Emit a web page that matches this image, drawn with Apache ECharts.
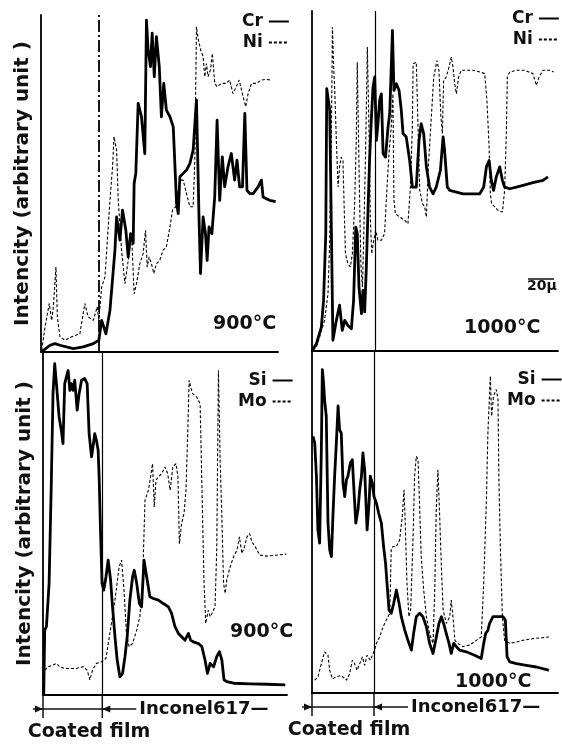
<!DOCTYPE html>
<html>
<head>
<meta charset="utf-8">
<script src="https://cdn.jsdelivr.net/npm/echarts@6/dist/echarts.min.js"></script>
<style>
  html, body { margin: 0; padding: 0; background: #fff; }
  #main { width: 562px; height: 745px; }
</style>
</head>
<body>
<div id="main"></div>
<script>
  // line scans across the coated film / Inconel617 section
  // x: position along the scan (0-100), y: intensity (arbitrary unit)
  var cr900 = [[0,0],[1.0,0.5],[3.8,2.0],[5.9,2.5],[8.0,2.0],[13.6,1.0],[17.8,1.5],[22.1,2.5],[24.4,3.5],[25.6,9.4],[27.4,5.4],[29.1,12.4],[31.2,30.2],[31.9,40.1],[33.3,33.2],[34.4,42.1],[35.8,36.1],[36.8,28.2],[37.8,35.1],[38.9,32.2],[39.3,50.0],[40.0,53.0],[41.0,73.8],[42.4,69.8],[43.8,58.9],[44.5,98.5],[45.2,89.6],[46.2,84.7],[46.9,94.6],[47.8,81.7],[48.7,93.6],[49.9,84.7],[50.8,69.8],[51.8,79.7],[52.9,71.8],[54.4,69.8],[55.8,66.8],[57.2,44.1],[57.9,41.1],[58.6,52.0],[60.0,53.0],[61.4,54.0],[62.8,55.9],[64.2,59.9],[65.6,74.8],[66.7,39.1],[67.3,23.3],[68.4,40.1],[69.4,35.1],[70.1,27.2],[70.9,37.1],[72.1,35.1],[73.3,46.0],[74.3,68.8],[75.4,45.0],[76.5,57.9],[77.5,49.0],[78.9,55.0],[80.3,58.9],[81.7,51.0],[82.7,56.9],[83.8,49.0],[85.0,49.0],[86.0,70.8],[86.9,48.0],[88.1,47.0],[89.5,47.0],[91.6,49.0],[93.0,51.0],[93.7,46.0],[95.1,45.5],[96.5,45.0],[99.0,44.6]];
  var ni900 = [[0.3,0.5],[1.7,7.4],[2.7,11.4],[3.5,14.4],[4.5,9.4],[5.2,13.4],[6.3,25.2],[6.9,10.4],[8.0,4.5],[10.1,3.5],[12.9,4.5],[16.4,5.4],[18.5,14.4],[19.9,10.4],[22.1,9.4],[23.7,13.4],[24.4,9.4],[25.6,19.3],[27.0,22.3],[29.1,45.0],[30.2,55.0],[30.8,63.9],[31.9,59.9],[32.6,45.0],[34.0,30.2],[35.4,20.3],[36.8,27.2],[38.2,35.1],[39.3,17.3],[40.3,20.3],[41.7,26.2],[43.1,29.2],[44.1,36.1],[44.8,25.2],[45.6,28.2],[46.6,26.2],[47.6,23.3],[48.7,26.2],[50.1,27.2],[51.5,30.2],[52.9,31.2],[54.4,37.1],[55.5,42.1],[56.9,43.1],[58.6,51.0],[60.0,51.0],[61.4,47.0],[62.8,43.1],[64.2,43.1],[64.9,56.9],[65.6,96.5],[66.4,92.6],[67.4,89.6],[68.4,87.6],[69.1,81.7],[69.8,85.6],[70.5,81.7],[71.5,83.7],[72.3,88.6],[73.3,79.7],[74.3,78.7],[76.1,79.7],[78.2,79.7],[79.6,80.7],[81.0,76.7],[82.4,78.7],[83.6,80.7],[85.3,75.7],[86.4,72.8],[87.4,76.7],[88.8,79.7],[90.9,79.7],[93.0,80.7],[95.1,80.9],[97.2,80.7]];
  var cr1000 = [[0,0],[1.8,2.2],[3.8,7.1],[4.7,15.0],[5.6,34.9],[6.0,77.9],[7.2,71.5],[7.9,34.9],[8.5,3.2],[9.9,9.1],[11.2,13.6],[12.3,6.1],[13.3,9.1],[14.6,7.6],[16.0,6.6],[16.9,15.0],[17.8,36.8],[18.4,34.9],[19.1,19.0],[20.1,11.1],[20.7,18.0],[21.4,11.6],[22.1,25.0],[22.8,42.8],[23.4,56.6],[24.1,68.5],[24.8,78.4],[25.5,81.4],[26.2,62.6],[26.8,67.5],[27.5,74.5],[28.2,76.4],[28.9,58.6],[29.9,57.6],[30.9,66.5],[31.6,70.5],[32.7,95.2],[33.3,77.4],[34.3,79.4],[35.4,77.4],[36.3,71.5],[37.0,64.6],[38.3,63.6],[39.7,56.6],[40.8,48.7],[42.4,48.7],[43.5,62.6],[44.4,67.5],[45.4,64.6],[46.5,54.7],[47.8,48.7],[49.2,46.7],[50.5,48.7],[52.2,53.7],[53.3,63.6],[53.9,59.6],[55.0,48.7],[56.0,47.7],[58.7,47.2],[61.4,46.7],[64.8,46.7],[68.2,46.7],[69.8,48.7],[70.9,54.7],[72.0,56.6],[72.9,50.7],[73.8,47.7],[74.9,51.7],[76.3,54.7],[77.4,50.7],[78.3,48.7],[80.4,48.2],[83.1,48.7],[85.8,49.2],[89.8,50.0],[93.9,50.7],[95.9,51.7]];
  var ni1000 = [[0.4,0.2],[1.8,1.2],[3.1,4.2],[5.1,9.1],[6.5,17.0],[7.2,32.9],[7.9,64.6],[8.3,96.2],[8.8,84.4],[9.2,78.4],[9.9,62.6],[10.6,48.7],[11.2,54.7],[11.9,57.6],[12.6,56.6],[13.0,44.8],[13.6,28.9],[14.6,25.9],[15.6,25.0],[16.4,28.9],[17.3,42.8],[18.0,62.6],[18.4,85.8],[19.0,59.6],[19.4,42.8],[19.9,25.0],[20.5,19.0],[21.0,32.9],[21.8,59.6],[22.5,90.3],[23.2,64.6],[23.7,39.8],[24.3,28.9],[25.1,32.9],[25.9,35.8],[26.8,32.9],[28.2,32.9],[29.5,34.9],[30.2,44.8],[31.3,58.6],[32.2,66.5],[32.9,76.4],[33.3,44.8],[33.9,40.8],[35.6,39.8],[37.7,38.8],[39.0,37.8],[40.0,48.7],[40.8,66.5],[41.1,85.3],[42.4,85.8],[43.1,66.5],[43.8,47.7],[44.9,43.8],[45.8,42.8],[46.5,39.8],[47.3,54.7],[48.5,69.5],[49.5,81.4],[50.3,84.4],[50.8,86.3],[51.6,83.4],[52.4,69.5],[53.0,64.6],[53.5,80.4],[54.6,81.4],[55.7,84.4],[56.6,87.3],[57.3,84.4],[58.0,79.4],[58.7,76.4],[59.6,81.4],[60.7,83.4],[62.7,83.4],[65.4,83.4],[68.2,82.9],[70.2,82.4],[71.1,74.5],[72.0,60.6],[72.5,46.7],[73.0,43.8],[74.3,42.8],[75.6,41.8],[77.4,41.3],[78.3,47.7],[79.0,64.6],[79.4,81.4],[80.4,82.9],[83.1,83.4],[86.4,83.4],[89.8,82.4],[91.2,78.9],[92.3,81.4],[93.9,83.4],[96.6,83.4],[98.2,82.9]];
  var si900 = [[0.3,0],[0.7,19.3],[1.4,20.3],[2.5,33.2],[3.4,62.9],[4.1,89.6],[4.8,98.5],[5.5,92.6],[6.6,82.7],[7.5,78.7],[8.2,74.8],[8.9,92.6],[9.6,94.6],[10.3,96.5],[11.0,90.6],[11.6,92.6],[12.3,90.6],[13.0,93.6],[14.0,84.7],[14.8,89.6],[15.8,93.6],[17.1,94.1],[18.1,92.6],[18.9,77.7],[19.9,70.8],[20.5,73.8],[21.2,77.7],[21.9,75.7],[22.6,72.8],[23.0,64.9],[23.6,48.0],[24.2,33.2],[24.9,31.2],[25.8,35.1],[26.7,40.1],[27.7,34.2],[28.5,26.2],[29.5,17.3],[30.4,10.4],[31.5,5.4],[32.6,6.4],[33.6,11.4],[34.5,17.3],[35.6,28.2],[36.7,35.1],[37.4,37.1],[38.4,33.2],[39.5,27.2],[40.4,26.2],[41.4,40.1],[42.5,35.1],[43.8,29.2],[45.2,28.7],[47.3,28.2],[49.3,27.2],[51.4,26.2],[52.7,24.3],[54.1,20.3],[55.5,18.3],[56.8,17.3],[58.2,16.3],[59.6,18.3],[60.5,16.3],[61.6,15.8],[63.7,15.3],[65.1,14.4],[66.4,10.4],[67.4,6.4],[68.5,9.4],[69.9,8.4],[71.2,11.4],[72.3,12.9],[73.3,10.4],[74.2,4.5],[75.3,4.0],[78.1,3.5],[84.9,3.3],[91.8,3.2],[99.3,3.0]];
  var mo900 = [[0.7,7.4],[2.1,8.4],[4.1,8.9],[5.5,9.4],[6.8,8.4],[8.9,7.9],[11.0,7.9],[13.7,7.9],[16.4,8.4],[18.1,7.4],[19.2,4.5],[20.3,7.4],[21.9,9.4],[24.0,9.9],[25.8,10.9],[27.4,18.3],[29.5,28.2],[31.2,38.1],[32.2,40.1],[33.2,31.2],[34.2,18.3],[35.3,14.4],[36.7,15.3],[38.4,19.3],[39.7,23.3],[40.8,33.2],[41.8,57.9],[43.2,60.9],[44.1,64.9],[44.9,68.8],[45.6,55.9],[46.3,63.9],[47.3,64.9],[48.6,65.8],[50.0,67.8],[51.1,65.8],[52.1,60.9],[53.2,67.8],[54.5,68.8],[55.3,64.9],[55.9,45.0],[56.8,51.0],[57.8,54.0],[58.6,60.9],[59.3,77.7],[59.9,93.6],[60.5,91.6],[61.4,89.6],[63.0,88.6],[64.4,86.6],[65.1,62.9],[66.0,33.2],[66.7,21.3],[67.7,25.2],[68.5,23.3],[69.3,24.3],[70.5,26.2],[71.2,43.1],[71.9,96.5],[72.6,69.8],[73.3,53.0],[74.0,33.2],[74.7,30.2],[75.3,34.2],[76.7,38.1],[78.1,41.1],[79.5,43.1],[80.5,47.0],[81.5,42.1],[82.6,44.1],[83.6,47.0],[84.7,48.0],[85.6,45.5],[87.0,44.1],[88.8,41.6],[91.8,41.3],[95.9,41.6],[99.7,41.9]];
  var si1000 = [[0.4,76.0],[1.1,74.1],[1.8,64.2],[2.4,48.3],[3.1,44.4],[3.8,72.1],[4.2,95.8],[4.7,91.9],[5.1,86.9],[5.8,82.0],[6.5,50.3],[7.2,42.4],[7.9,40.4],[8.5,52.3],[9.2,64.2],[9.9,74.1],[10.6,85.0],[11.2,78.0],[11.9,77.0],[12.6,62.2],[13.3,58.2],[14.0,63.2],[14.6,64.2],[15.6,68.1],[16.4,69.1],[16.9,62.2],[17.8,50.3],[18.7,54.3],[19.4,60.2],[20.1,64.2],[20.7,71.1],[21.4,66.1],[22.4,48.3],[23.2,56.2],[23.7,64.2],[24.5,62.2],[25.2,58.2],[26.2,56.2],[27.1,53.3],[28.2,50.3],[29.1,43.4],[29.9,38.4],[30.5,32.5],[31.3,24.6],[32.2,23.6],[33.2,26.5],[34.3,30.5],[35.4,26.5],[36.3,22.6],[37.7,18.6],[39.0,15.6],[40.4,12.7],[41.3,17.6],[42.4,22.6],[43.8,23.6],[45.1,22.6],[46.5,19.6],[47.8,14.7],[49.2,11.7],[50.3,15.6],[51.6,20.6],[52.6,22.6],[53.5,20.6],[54.6,17.6],[55.7,14.7],[56.6,11.7],[57.6,14.7],[58.7,13.7],[60.0,12.7],[62.7,12.2],[66.1,11.2],[68.8,10.2],[69.8,14.7],[70.6,17.6],[71.5,18.6],[72.2,20.6],[73.6,22.6],[75.6,22.6],[77.6,22.6],[78.6,21.6],[79.3,10.7],[80.4,9.2],[83.1,8.7],[87.1,8.2],[91.2,7.7],[95.3,6.9],[96.3,6.7]];
  var mo1000 = [[1.1,3.8],[2.4,4.7],[3.8,8.7],[5.1,12.2],[6.5,11.2],[7.2,6.7],[8.3,4.2],[9.9,4.8],[11.9,5.2],[14.0,3.8],[15.3,5.7],[16.4,9.7],[17.3,8.7],[18.3,6.7],[19.4,8.7],[20.5,10.7],[21.4,8.2],[22.4,11.2],[23.7,9.7],[25.2,12.2],[26.2,14.7],[27.5,16.6],[28.9,19.6],[30.2,21.6],[31.6,23.6],[32.2,42.4],[32.9,43.4],[34.3,43.4],[35.6,45.3],[36.7,52.3],[37.4,60.2],[37.9,50.3],[38.6,32.5],[39.4,22.6],[40.1,24.6],[41.1,46.3],[41.7,64.2],[42.4,70.1],[43.1,69.1],[43.8,54.3],[44.4,40.4],[45.4,30.5],[46.5,22.6],[47.8,17.6],[49.2,14.7],[49.9,30.5],[50.5,54.3],[51.2,66.1],[51.9,52.3],[52.6,37.4],[53.3,24.6],[54.6,20.6],[56.0,22.6],[56.6,27.5],[57.3,22.6],[58.1,15.6],[59.3,14.7],[61.4,13.7],[64.1,14.2],[66.8,15.6],[68.8,16.6],[69.8,32.5],[70.9,57.2],[71.5,77.0],[72.5,93.9],[73.0,82.0],[73.8,87.9],[74.9,89.9],[75.6,86.9],[76.0,62.2],[76.6,42.4],[77.4,22.6],[78.3,15.6],[80.4,14.7],[83.1,15.1],[85.8,15.6],[89.8,16.1],[93.9,16.4],[96.3,16.6]];

  // film / alloy boundary of each panel (same x units)
  var interfaceX = [24.4, 25.7, 24.3, 25.2];
  var tempLabels = ['900°C', '1000°C', '900°C', '1000°C'];
  var yTitle = 'Intencity (arbitrary unit )';

  var FONT = 'DejaVu Sans';
  var chart = echarts.init(document.getElementById('main'));

  var grids = [
    {left: 41, top: 15, width: 237, height: 337},
    {left: 312, top: 11, width: 246, height: 340},
    {left: 43, top: 352, width: 244, height: 343},
    {left: 312, top: 352, width: 246, height: 341}
  ];
  var yMax = [100, 101, 102, 101];

  var axisLine = {show: true, onZero: false, lineStyle: {color: '#000', width: 1.8}};
  var xAxes = [], yAxes = [];
  grids.forEach(function (g, i) {
    g.outerBoundsMode = 'none';
    xAxes.push({type: 'value', gridIndex: i, min: 0, max: 100, axisLine: axisLine,
      axisTick: {show: false}, axisLabel: {show: false}, splitLine: {show: false}});
    var y = {type: 'value', gridIndex: i, min: 0, max: yMax[i], axisLine: axisLine,
      axisTick: {show: false}, axisLabel: {show: false}, splitLine: {show: false}};
    if (i === 0 || i === 2) {
      y.name = yTitle;
      y.nameLocation = 'middle';
      y.nameGap = 8;
      y.nameTextStyle = {fontFamily: FONT, fontWeight: 'bold', fontSize: 20, color: '#111'};
    }
    yAxes.push(y);
  });

  function solid(name, data, i) {
    return {name: name, type: 'line', xAxisIndex: i, yAxisIndex: i, data: data,
      symbol: 'none', silent: true, z: 4,
      lineStyle: {color: '#000', width: 2.8, join: 'round'}, itemStyle: {color: '#000'}};
  }
  function dashed(name, data, i) {
    return {name: name, type: 'line', xAxisIndex: i, yAxisIndex: i, data: data,
      symbol: 'none', silent: true, z: 3,
      lineStyle: {color: '#000', width: 1.1, type: [3, 2]}, itemStyle: {color: '#000'},
      markLine: {
        silent: true, symbol: ['none', 'none'], label: {show: false},
        lineStyle: i === 0
          ? {color: '#000', width: 1.8, type: [12, 3, 2, 3]}
          : {color: '#000', width: 1.2, type: 'solid'},
        data: [{xAxis: interfaceX[i]}]
      }};
  }

  function legendAt(names, left, top) {
    return {data: names, left: left, top: top, orient: 'vertical', align: 'right',
      itemWidth: 20, itemHeight: 10, itemGap: 4, padding: 0, selectedMode: false,
      itemStyle: {opacity: 0, borderWidth: 0},
      textStyle: {fontFamily: FONT, fontWeight: 'bold', fontSize: 17, color: '#111', padding: [0, 1, 0, 0]}};
  }

  chart.setOption({
    animation: false,
    backgroundColor: '#fff',
    grid: grids,
    xAxis: xAxes,
    yAxis: yAxes,
    legend: [
      legendAt(['Cr', 'Ni'], 242, 13),
      legendAt(['Cr', 'Ni'], 512, 10),
      legendAt(['Si', 'Mo'], 238, 372),
      legendAt(['Si', 'Mo'], 507, 371)
    ],
    series: [
      solid('Cr', cr900, 0), dashed('Ni', ni900, 0),
      solid('Cr', cr1000, 1), dashed('Ni', ni1000, 1),
      solid('Si', si900, 2), dashed('Mo', mo900, 2),
      solid('Si', si1000, 3), dashed('Mo', mo1000, 3)
    ]
  });

  // annotations: temperatures, scale bar and the film / alloy markers
  var txt = function (s, x, y, size, align) {
    return {type: 'text', x: x, y: y, silent: true,
      style: {text: s, fontFamily: FONT, fontWeight: 'bold', fontSize: size, fill: '#111',
        textAlign: align || 'left', textVerticalAlign: 'top'}};
  };
  var line = function (x1, y1, x2, y2, w) {
    return {type: 'line', silent: true, shape: {x1: x1, y1: y1, x2: x2, y2: y2},
      style: {stroke: '#111', lineWidth: w || 1.5}};
  };
  var head = function (tipX, y, dir) {
    return {type: 'polygon', silent: true,
      shape: {points: [[tipX, y], [tipX - dir * 8, y - 3.5], [tipX - dir * 8, y + 3.5]]},
      style: {fill: '#111'}};
  };

  var g = [
    txt(tempLabels[0], 213, 315, 19),
    txt(tempLabels[1], 464, 319, 19),
    txt(tempLabels[2], 230, 623, 19),
    txt(tempLabels[3], 455, 673, 19),
    line(528, 279, 554, 279, 1.5),
    txt('20μ', 527, 279, 14)
  ];
  var filmCentre = [89, 349];
  [2, 3].forEach(function (gi, k) {
    var p0 = chart.convertToPixel({gridIndex: gi}, [0, 0]);
    var pi = chart.convertToPixel({gridIndex: gi}, [interfaceX[gi], 0]);
    var yb = p0[1], ry = yb + 14;
    g.push(line(p0[0], yb, p0[0], yb + 23, 1.5));
    g.push(line(pi[0], yb, pi[0], yb + 23, 1.5));
    g.push(line(p0[0] - 10, ry, pi[0] + 34, ry, 1.5));
    g.push(head(p0[0], ry, 1));
    g.push(head(pi[0], ry, -1));
    g.push({type: 'text', x: pi[0] + 37, y: ry, silent: true,
      style: {text: 'Inconel617—', fontFamily: FONT, fontWeight: 'bold', fontSize: 18, fill: '#111',
        textAlign: 'left', textVerticalAlign: 'middle'}});
    g.push(txt('Coated film', filmCentre[k], yb + 28, 19, 'center'));
  });
  chart.setOption({graphic: g});
</script>
</body>
</html>
